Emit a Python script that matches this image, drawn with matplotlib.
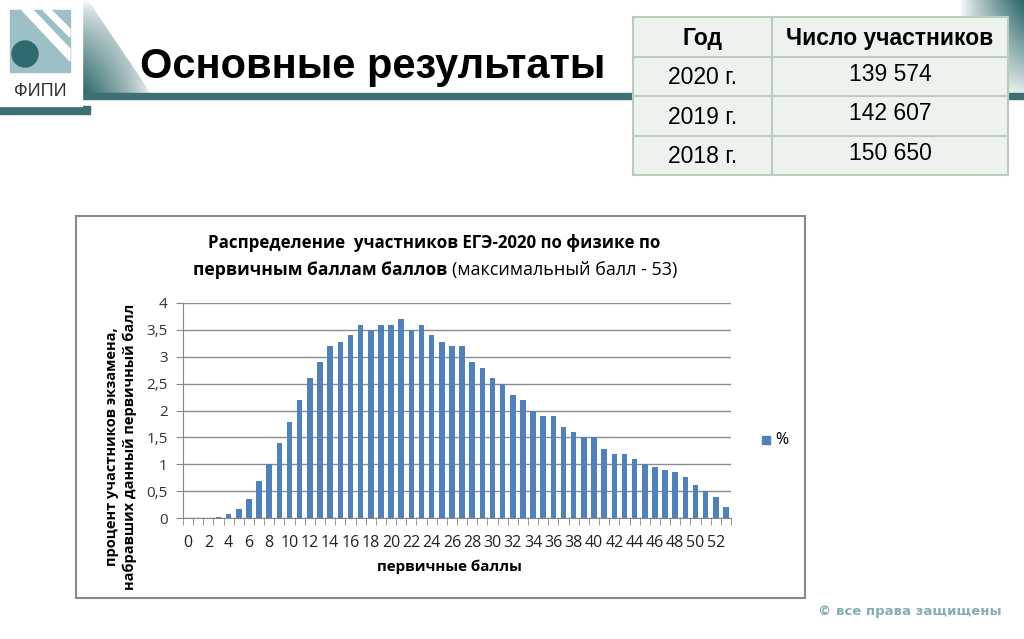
import numpy as np
import matplotlib
matplotlib.use('Agg')
import matplotlib.pyplot as plt
from matplotlib.patches import Rectangle, Polygon, Circle

# Data
scores = list(range(0, 54))
percent = [0, 0, 0, 0.02, 0.07, 0.17, 0.35, 0.68, 1.0, 1.39,
           1.79, 2.2, 2.61, 2.9, 3.2, 3.28, 3.4, 3.6, 3.5, 3.6,
           3.6, 3.7, 3.5, 3.6, 3.4, 3.28, 3.2, 3.2, 2.9, 2.79,
           2.6, 2.49, 2.29, 2.2, 2.0, 1.9, 1.9, 1.7, 1.6, 1.5,
           1.5, 1.29, 1.19, 1.19, 1.1, 1.0, 0.95, 0.9, 0.86, 0.76,
           0.62, 0.5, 0.4, 0.2]
years = ['2020 г.', '2019 г.', '2018 г.']
participants = ['139 574', '142 607', '150 650']

W, H = 1024, 639
fig = plt.figure(figsize=(W / 100, H / 100), dpi=100)
fig.patch.set_facecolor('white')

# background layer in pixel coordinates
bg = fig.add_axes([0, 0, 1, 1])
bg.set_xlim(0, W)
bg.set_ylim(H, 0)
bg.axis('off')

teal = '#3d6f73'

# gradient wedge to the right of the logo
cmap_teal = matplotlib.colors.LinearSegmentedColormap.from_list('t', ['white', '#2a6567'])
grad = np.outer(np.linspace(0, 1, 100), np.linspace(1, 0, 100)) ** 0.7
img = bg.imshow(grad, extent=(82, 152, 95, 0), cmap=cmap_teal, vmin=0, vmax=1,
                aspect='auto', zorder=1)
img.set_clip_path(Polygon([(82, 0), (88, 0), (152, 95), (82, 95)], closed=True,
                          transform=bg.transData))

# top-right corner gradient
bg.imshow(np.outer(np.linspace(1, 0, 100), np.linspace(0, 1, 100)) ** 0.8,
          extent=(960, W, 100, 0), cmap=cmap_teal, vmin=0, vmax=1,
          aspect='auto', zorder=1)

# dark header bars
bg.add_patch(Rectangle((82, 93), W - 82, 6, color=teal, zorder=2))
bg.add_patch(Rectangle((0, 106), 90, 8, color=teal, zorder=2))

# logo
bg.add_patch(Rectangle((0, 0), 82, 106, color='white', zorder=3))
bg.add_patch(Rectangle((10, 10), 60, 62, color='#9dbfc6', zorder=4))
bg.add_patch(Polygon([(22, 10), (33, 10), (70, 49), (70, 61)], closed=True,
                     color='white', zorder=5))
bg.add_patch(Polygon([(43, 10), (51, 10), (70, 29), (70, 37)], closed=True,
                     color='white', zorder=5))
bg.add_patch(Circle((25, 54), 13, color='#2f6a6c', zorder=6))
bg.text(40, 92, 'ФИПИ', fontsize=13, ha='center', va='center', color='#333333',
        family='Liberation Sans', zorder=6)

# slide title
bg.text(140, 67, 'Основные результаты', fontsize=30, fontweight='bold', ha='left',
        va='center', color='black', family=['Liberation Sans'], zorder=6)

# table
tx = [633, 772, 1008]
ty = [17, 57, 96, 136, 175]
bg.add_patch(Rectangle((tx[0], ty[0]), tx[2] - tx[0], ty[-1] - ty[0],
                       facecolor='#eef2ee', edgecolor='none', zorder=7))
for x in tx:
    bg.plot([x, x], [ty[0], ty[-1]], color='#b9ceb9', lw=1.5, zorder=8)
for y in ty:
    bg.plot([tx[0], tx[2]], [y, y], color='#b9ceb9', lw=1.5, zorder=8)
tfont = 'Liberation Sans'
bg.text((tx[0] + tx[1]) / 2, 39, 'Год', fontsize=16.5, fontweight='bold',
        ha='center', va='center', family=tfont, zorder=9)
bg.text((tx[1] + tx[2]) / 2, 39, 'Число участников', fontsize=16.5, fontweight='bold',
        ha='center', va='center', family=tfont, zorder=9)
for i in range(3):
    yc = (ty[i + 1] + ty[i + 2]) / 2
    bg.text((tx[0] + tx[1]) / 2, yc + 1, years[i], fontsize=16.5, ha='center',
            va='center', family=tfont, zorder=9)
    bg.text((tx[1] + tx[2]) / 2, yc - 2, participants[i], fontsize=16.5, ha='center',
            va='center', family=tfont, zorder=9)

# chart frame
bg.add_patch(Rectangle((76, 216), 729, 382, facecolor='white', edgecolor='#8a8a8a',
                       lw=1.5, zorder=3))
cfont = ['Open Sans', 'DejaVu Sans']
bg.text(434, 243, 'Распределение  участников ЕГЭ-2020 по физике по', fontsize=12.2,
        fontweight='bold', ha='center', va='center', family=cfont, zorder=4)
t1 = bg.text(193, 270, 'первичным баллам баллов ', fontsize=12.6, fontweight='bold',
             ha='left', va='center', family=cfont, zorder=4)
bg.annotate('(максимальный балл - 53)', xycoords=t1, xy=(1, 0), va='bottom',
            fontsize=13, family=cfont, zorder=4)
bg.text(112, 447, 'процент участников экзамена,', fontsize=10.5, fontweight='bold',
        rotation=90, ha='center', va='center', family=cfont, zorder=4)
bg.text(130, 447, 'набравших данный первичный балл', fontsize=10.5, fontweight='bold',
        rotation=90, ha='center', va='center', family=cfont, zorder=4)
bg.text(449, 567, 'первичные баллы', fontsize=10.9, fontweight='bold', ha='center',
        va='center', family=cfont, zorder=4)

# legend
bg.add_patch(Rectangle((762, 436), 8, 8, color='#4F81BD', zorder=4))
bg.text(775, 440, '%', fontsize=11.5, ha='left', va='center', family=cfont, zorder=4)

# copyright
bg.text(910, 612, '© все права защищены', fontsize=9.5, fontweight='bold', ha='center',
        va='center', color='#86aeb3', family=['DejaVu Sans'], zorder=4)

# bar chart
ax = fig.add_axes([183 / W, 1 - 518 / H, 548 / W, 215 / H], zorder=5)
ax.patch.set_alpha(0)
ax.bar(scores, percent, width=0.55, color='#4F81BD', zorder=3)
ax.set_xlim(-0.5, 53.5)
ax.set_ylim(0, 4)
ax.set_yticks(np.arange(0, 4.01, 0.5))
ax.set_yticklabels([('%g' % v).replace('.', ',') for v in np.arange(0, 4.01, 0.5)],
                   family=cfont, fontsize=11, color='#333333')
ax.set_xticks(scores[::2])
ax.set_xticklabels([str(s) for s in scores[::2]], family=cfont, fontsize=11.5,
                   color='#222222')
ax.set_xticks(np.arange(-0.5, 54, 1), minor=True)
ax.tick_params(axis='x', which='major', length=0, pad=12)
ax.tick_params(axis='x', which='minor', length=5, color='#888888')
ax.tick_params(axis='y', length=5, color='#888888', pad=6)
ax.yaxis.grid(True, color='#8c8c8c', lw=1)
ax.set_axisbelow(True)
for s in ['top', 'right']:
    ax.spines[s].set_visible(False)
for s in ['left', 'bottom']:
    ax.spines[s].set_color('#888888')

fig.savefig('out.png', dpi=100)
